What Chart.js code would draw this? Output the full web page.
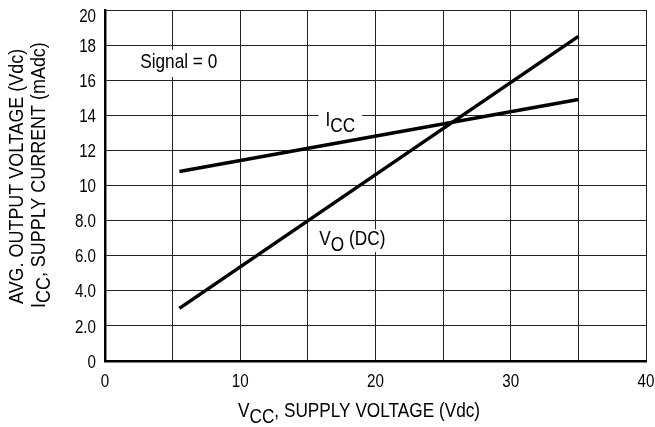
<!DOCTYPE html>
<html><head><meta charset="utf-8">
<script src="https://cdn.jsdelivr.net/npm/chart.js@4"></script>
<style>html,body{margin:0;padding:0;background:#fff}#wrap{width:655px;height:427px}</style>
</head><body><div id="wrap"><canvas id="c"></canvas></div>
<script>
// Data
const vccSupply = [5.5, 35];          // V_CC, supply voltage (Vdc)
const iccCurrent = [10.8, 14.9];      // I_CC, supply current (mAdc)
const voOutput = [3.0, 18.5];         // V_O (DC), avg output voltage (Vdc)
const xTickValues = [0, 10, 20, 30, 40];
const xTickLabels = ['0', '10', '20', '30', '40'];
const yTickValues = [0, 2, 4, 6, 8, 10, 12, 14, 16, 18, 20];
const yTickLabels = ['0', '2.0', '4.0', '6.0', '8.0', '10', '12', '14', '16', '18', '20'];

const FONT = '"Liberation Sans", Arial, Helvetica, sans-serif';

// draw text pieces (second item true = subscript), horizontally condensed by sq
function drawText(ctx, parts, x, y, size, align, sq) {
  ctx.save();
  ctx.font = size + 'px ' + FONT;
  ctx.textAlign = 'left';
  ctx.textBaseline = 'alphabetic';
  let total = 0;
  parts.forEach(p => total += ctx.measureText(p[0]).width);
  total *= sq;
  let sx = x;
  if (align === 'center') sx = x - total / 2;
  else if (align === 'right') sx = x - total;
  ctx.translate(sx, y);
  ctx.scale(sq, 1);
  let cx = 0;
  parts.forEach(p => {
    ctx.fillText(p[0], cx, p[1] ? size * 0.27 : 0);
    cx += ctx.measureText(p[0]).width;
  });
  ctx.restore();
  return total;
}

const labelsPlugin = {
  id: 'labels',
  afterDraw(chart) {
    const ctx = chart.ctx;
    const xs = chart.scales.x, ys = chart.scales.y;
    const ca = chart.chartArea;
    ctx.save();
    ctx.fillStyle = '#000';
    xTickValues.forEach((v, i) => {
      drawText(ctx, [[xTickLabels[i], false]], xs.getPixelForValue(v), ca.bottom + 26, 18.5, 'center', 0.82);
    });
    yTickValues.forEach((v, i) => {
      const off = v === 20 ? 5 : 0;
      drawText(ctx, [[yTickLabels[i], false]], ca.left - 9, ys.getPixelForValue(v) + 6.6 + off, 18.5, 'right', 0.82);
    });
    const notes = [
      {parts: [['Signal = 0', false]], x: 2.6, y: 16.7, pad: [5, 3, 3]},
      {parts: [['I', false], ['CC', true]], x: 16.3, y: 13.4, pad: [7, 3, 3]},
      {parts: [['V', false], ['O', true], [' (DC)', false]], x: 15.85, y: 6.6, pad: [4, 1, 1]}
    ];
    const fs = 21;
    notes.forEach(n => {
      ctx.font = fs + 'px ' + FONT;
      let w = 0; n.parts.forEach(p => w += ctx.measureText(p[0]).width);
      w *= 0.82;
      const px = xs.getPixelForValue(n.x), py = ys.getPixelForValue(n.y);
      ctx.fillStyle = '#fff';
      ctx.fillRect(px - n.pad[0], py - 15 - n.pad[1], w + 2 * n.pad[0], 15 + 6 + n.pad[1] + n.pad[2]);
      ctx.fillStyle = '#000';
      drawText(ctx, n.parts, px, py, fs, 'left', 0.82);
    });
    drawText(ctx, [['V', false], ['CC', true], [', SUPPLY VOLTAGE (Vdc)', false]], 238, 417, 21, 'left', 0.82);
    ctx.translate(0, 304);
    ctx.rotate(-Math.PI / 2);
    drawText(ctx, [['AVG. OUTPUT VOLTAGE (Vdc)', false]], 0, 23, 19.5, 'left', 0.92);
    drawText(ctx, [['I', false], ['CC', true], [', SUPPLY CURRENT (mAdc)', false]], -4, 45, 19.5, 'left', 0.92);
    ctx.restore();
  }
};

new Chart(document.getElementById('c'), {
  type: 'scatter',
  data: {
    datasets: [
      {label: 'ICC', data: vccSupply.map((v, i) => ({x: v, y: iccCurrent[i]})), showLine: true,
       borderColor: '#000', borderWidth: 3.5, pointRadius: 0, borderCapStyle: 'butt'},
      {label: 'VO', data: vccSupply.map((v, i) => ({x: v, y: voOutput[i]})), showLine: true,
       borderColor: '#000', borderWidth: 3.5, pointRadius: 0, borderCapStyle: 'butt'}
    ]
  },
  options: {
    responsive: true, maintainAspectRatio: false, animation: false,
    layout: {padding: {top: 10, right: 9, left: 0, bottom: 0}},
    plugins: {legend: {display: false}, tooltip: {enabled: false}},
    scales: {
      x: {
        type: 'linear', min: 0, max: 40,
        afterFit(s) { s.height = 66; },
        afterBuildTicks(s) { s.ticks = []; for (let v = 0; v <= 40; v += 5) s.ticks.push({value: v}); },
        ticks: {display: false},
        grid: {color: '#222', lineWidth: 1, drawTicks: false},
        border: {color: '#000', width: 2.5}
      },
      y: {
        min: 0, max: 20,
        afterFit(s) { s.width = 105; },
        afterBuildTicks(s) { s.ticks = yTickValues.map(v => ({value: v})); },
        ticks: {display: false},
        grid: {color: '#222', lineWidth: 1, drawTicks: false},
        border: {color: '#000', width: 2.5}
      }
    }
  },
  plugins: [labelsPlugin]
});
</script></body></html>
